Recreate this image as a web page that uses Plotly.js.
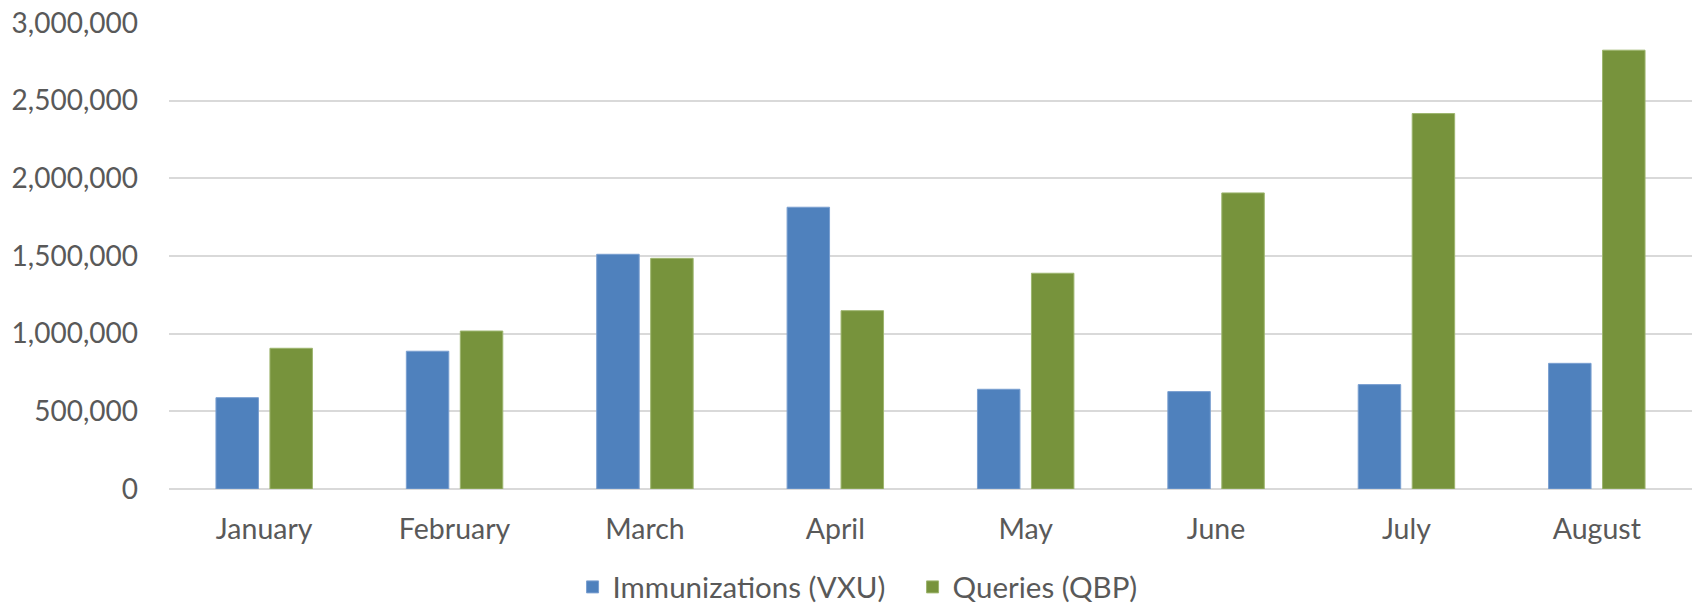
<!DOCTYPE html>
<html>
<head>
<meta charset="utf-8">
<script src="https://cdn.plot.ly/plotly-3.0.1.min.js"></script>
<style>html,body{margin:0;padding:0;background:#fff;}#chart{width:1694px;height:606px;}</style>
</head>
<body>
<div id="chart"></div>
<script>
const months = ["January", "February", "March", "April", "May", "June", "July", "August"];
const immunizations = [588000, 887000, 1511000, 1814000, 642000, 627000, 672000, 809000];
const queries = [906000, 1017000, 1485000, 1148000, 1389000, 1906000, 2417000, 2825000];
const seriesNames = ["Immunizations (VXU)", "Queries (QBP)"];
const tickVals = [0, 500000, 1000000, 1500000, 2000000, 2500000, 3000000];
const tickText = ["0", "500,000", "1,000,000", "1,500,000", "2,000,000", "2,500,000", "3,000,000"];

const fontFam = "Lato, 'Open Sans', sans-serif";
const data = [
  {type: "bar", name: seriesNames[0], x: months, y: immunizations,
   marker: {color: "#4F81BD", line: {color: "#7A9FD0", width: 1}}, hoverinfo: "x+y"},
  {type: "bar", name: seriesNames[1], x: months, y: queries,
   marker: {color: "#77933C", line: {color: "#9DB56E", width: 1}}, hoverinfo: "x+y"}
];
const layout = {
  width: 1694, height: 606,
  margin: {l: 169, r: 2, t: 23, b: 117},
  paper_bgcolor: "#ffffff", plot_bgcolor: "#ffffff",
  barmode: "group", bargap: 0.433, bargroupgap: 0.213,
  font: {family: fontFam, color: "#595959", size: 28},
  xaxis: {type: "category", showgrid: false, zeroline: false, showline: false, automargin: false,
          ticks: "", ticklabelstandoff: 20, tickfont: {family: fontFam, size: 28.5, color: "#595959"}},
  yaxis: {range: [0, 3000000], tickvals: tickVals, ticktext: tickText, automargin: false,
          showgrid: true, gridcolor: "#D9D9D9", gridwidth: 2,
          zeroline: true, zerolinecolor: "#D9D9D9", zerolinewidth: 2,
          showline: false, ticks: "", ticklabelstandoff: 30,
          tickfont: {family: fontFam, size: 28, color: "#595959"}},
  showlegend: true,
  legend: {orientation: "h", xref: "container", yref: "container",
           x: 0.338, xanchor: "left", y: 0.031, yanchor: "middle", entrywidth: 295,
           font: {family: fontFam, size: 29.5, color: "#595959"}, bgcolor: "rgba(0,0,0,0)"}
};
Plotly.newPlot("chart", data, layout, {displayModeBar: false, staticPlot: true});
</script>
</body>
</html>
